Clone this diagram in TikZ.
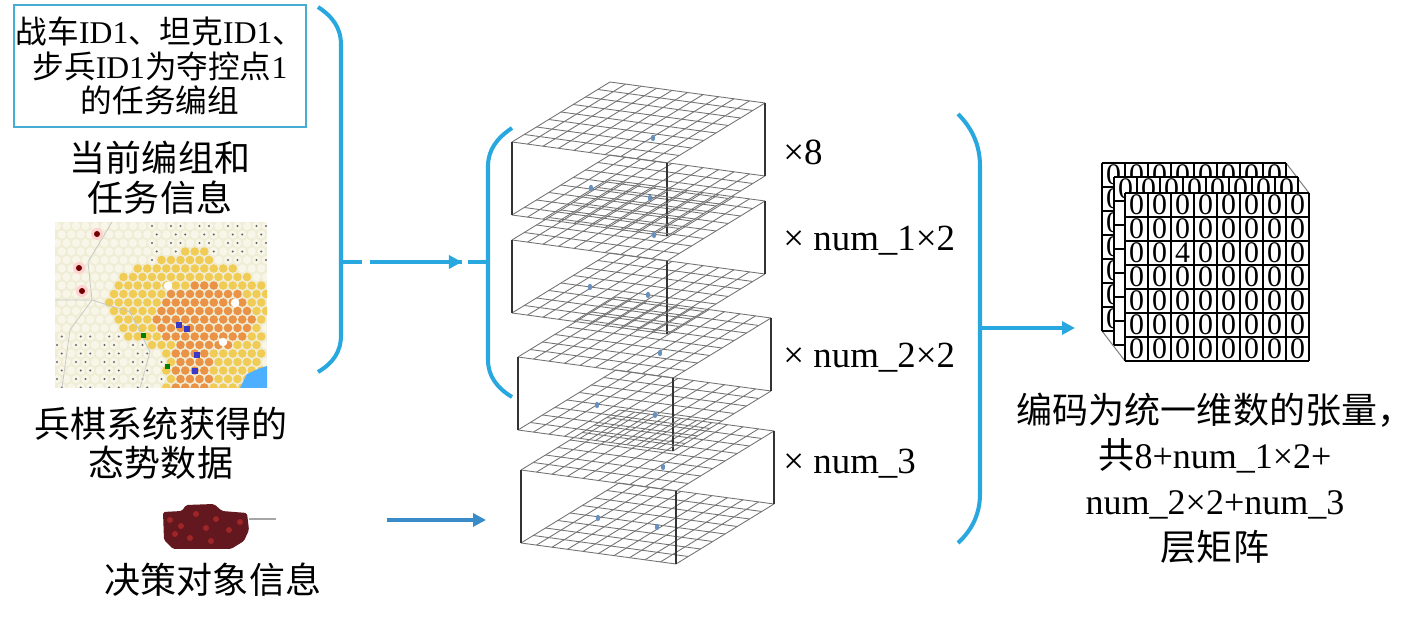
\documentclass[tikz,border=0pt]{standalone}
\usepackage{fontspec}
\setmainfont{Liberation Serif}
\newfontfamily\cjk{Noto Sans CJK SC}
\usepackage{tikz}
\usetikzlibrary{positioning, arrows.meta, decorations.markings}
\definecolor{brblue}{RGB}{41,168,224}
\definecolor{boxblue}{RGB}{70,172,212}
\definecolor{arblue}{RGB}{58,140,200}
\definecolor{mkblue}{RGB}{105,145,190}
\definecolor{mapbg}{RGB}{240,237,214}
\definecolor{hexbg}{RGB}{248,246,232}
\definecolor{hexyel}{RGB}{240,204,84}
\definecolor{hexor}{RGB}{234,146,70}
\definecolor{tankred}{RGB}{98,24,30}

% one grid layer of the stack, left corner at (#1,#2)
\newcommand{\gridplane}[2]{%
  \foreach \i in {0,...,10} \draw[gridline] (#1+\i*15.5,#2+\i*2.1) -- ++(98,-60);
  \foreach \j in {0,...,8} \draw[gridline] (#1+\j*12.25,#2-\j*7.5) -- ++(155,21);
}
% one matrix layer: name, corner, which digits show (2 all, 1 top row, 0 top row and left column)
\newcommand{\matlayer}[4]{%
  \fill[white] (#2,#3) rectangle ++(184,168);
  \foreach \r in {0,...,6}
    \foreach \c in {0,...,7} {
      \pgfmathtruncatemacro\v{4*(#4==2)*(\r==2)*(\c==2)}
      \pgfmathtruncatemacro\seen{(#4==2) || (\r==0) || (\c==0 && #4==0)}
      \ifnum\seen=1 \node[digit] (#1-\r-\c) at (#2+11.5+\c*23,#3+12+\r*24) {\v}; \fi
    }
  \foreach \c in {0,...,8} \draw[matline] (#2+\c*23,#3) -- ++(0,168);
  \foreach \r in {0,...,7} \draw[matline] (#2,#3+\r*24) -- ++(184,0);
}

\begin{document}
\begin{tikzpicture}[x=0.02cm, y=-0.02cm, node distance=0.25cm,
    every node/.style={inner sep=0pt},
    brline/.style={brblue, line width=2.3pt},
    tip/.style={-{Triangle[length=0.26cm, width=0.26cm]}},
    gridline/.style={black!55, line width=0.5pt},
    post/.style={black!80, line width=1.1pt},
    cjklbl/.style={font=\cjk\fontsize{20.5}{22.5}\selectfont, align=center},
    taskbox/.style={draw=boxblue, line width=1.4pt, minimum width=5.84cm, minimum height=2.44cm,
      font=\cjk\fontsize{18}{19.5}\selectfont, align=center},
    mult/.style={font=\fontsize{21}{24}\selectfont, anchor=west},
    digit/.style={font=\fontsize{17}{17}\selectfont},
    matline/.style={black, line width=1.3pt}]
  \useasboundingbox (0,0) rectangle (1418,617);

  % left column
  \node[taskbox] (task) at (160,66) {战车\textrm{ID1}、坦克\textrm{ID1}、\\步兵\textrm{ID1}为夺控点\textrm{1}\\的任务编组};
  \node[cjklbl, below=0.25cm of task] (cur) {当前编组和\\任务信息};
  \node[minimum width=4.24cm, minimum height=3.32cm] (map) at (161,305) {};
  \node[cjklbl, below=0.36cm of map] (sit) {兵棋系统获得的\\态势数据};
  \node[cjklbl] (dec) at (213,580) {决策对象信息};

  % map
  \begin{scope}
    \clip (55,222) rectangle (267,388);
    \fill[mapbg] (55,222) rectangle (267,388);
    \foreach \j in {0,...,19}
      \foreach \i in {0,...,22} {
        \pgfmathsetmacro\hx{57+9.5*\i+4.75*mod(\j,2)}
        \pgfmathsetmacro\hy{226+8.5*\j}
        \pgfmathtruncatemacro\og{(((\hx-205)/50)^2+((\hy-318)/34)^2<1) || (\hx>172 && \hx<212 && \hy>320)}
        \pgfmathtruncatemacro\ye{(((\hx-188)/82)^2+((\hy-305)/48)^2<1) || (\hx>165 && \hx<264 && \hy>300) || (\hx>183 && \hx<206 && \hy>244)}
        \pgfmathtruncatemacro\fr{(\hy<265 && \hx>150 && mod(\i,3)!=2) || (\hy>335 && \hx<170 && mod(\i,3)!=1)}
        \ifnum\og=1 \fill[hexor] (\hx,\hy) circle (4.3);
        \else\ifnum\ye=1 \fill[hexyel] (\hx,\hy) circle (4.3);
        \else \fill[hexbg] (\hx,\hy) circle (4.1);
          \ifnum\fr=1 \fill[black!60] (\hx,\hy) circle (1.1); \fi
        \fi\fi
      }
    \draw[gray!45, line width=0.4pt] (62,388) -- (70,330) -- (92,300) -- (88,262) -- (112,222);
    \draw[gray!45, line width=0.4pt] (55,300) -- (92,300) -- (130,312) -- (150,352) -- (140,388);
    \foreach \wx/\wy in {168/286, 235/303, 223/342} \fill[white] (\wx,\wy) circle (4.3);
    \foreach \ux/\uy in {97/234, 79/268, 82/291} {
      \fill[red!18] (\ux,\uy) circle (6);
      \fill[red!45!black] (\ux,\uy) circle (3);
    }
    \foreach \ux/\uy in {176/322, 184/326, 194/352, 192/368} \fill[blue!55!gray] (\ux,\uy) rectangle ++(6,6);
    \foreach \ux/\uy in {141/333, 165/364} \fill[green!50!black] (\ux,\uy) rectangle ++(5,5);
    \fill[blue!45!cyan!70] (240,388) -- (247,374) -- (258,369) -- (267,366) -- (267,388) -- cycle;
  \end{scope}

  % tank
  \fill[tankred, rounded corners=1pt] (163,512) -- (182,511) -- (186,505) -- (214,504) -- (222,511) -- (247,513)
    -- (249,530) -- (244,541) -- (231,549) -- (173,549) -- (164,540) -- cycle;
  \foreach \tx/\ty in {170/520, 181/526, 196/514, 206/528, 216/519, 229/530, 240/522, 190/538, 211/541, 175/534}
    \fill[red!55!black!85] (\tx,\ty) circle (3);
  \draw[gray!70, line width=1.2pt] (249,519) -- (276,519);

  % brackets
  \draw[brline] (318,7) .. controls (333,17) and (341,28) .. (341,45) -- (341,335)
    .. controls (341,352) and (333,363) .. (318,372);
  \draw[brline] (512,128) .. controls (497,138) and (488,150) .. (488,166) -- (488,360)
    .. controls (488,376) and (497,388) .. (512,397);
  \draw[brline] (958,114) .. controls (972,128) and (980,145) .. (980,166) -- (980,494)
    .. controls (980,514) and (972,530) .. (958,543);

  % grid stack
  \foreach \bx/\by in {512/142, 512/240, 518/357, 521/470} {
    \gridplane{\bx}{\by}
    \gridplane{\bx}{\by+73}
    \draw[post] (\bx,\by) -- ++(0,73);
    \draw[post] (\bx+155,\by+21) -- ++(0,73);
    \draw[post] (\bx+253,\by-39) -- ++(0,73);
  }
  \foreach \mx/\my in {653/138, 591/188, 650/198, 654/235, 590/287, 648/295, 660/353, 597/405, 655/415, 663/467, 598/518, 657/527}
    \fill[mkblue] (\mx,\my) ellipse (2.2 and 3.2);

  \node[mult] (m8) at (783,152) {×8};
  \node[mult] (m1) at (783,241) {× num\_1×2};
  \node[mult] (m2) at (783,358) {× num\_2×2};
  \node[mult] (m3) at (783,464) {× num\_3};

  % matrices
  \draw[gray, line width=0.6pt] (1286,163) -- (1309,193);
  \draw[gray, line width=0.6pt] (1102,331) -- (1125,361);
  \matlayer{back}{1102}{163}{0}
  \matlayer{mid}{1114}{177}{1}
  \matlayer{front}{1125}{193}{2}
  \node[cjklbl, font=\cjk\fontsize{20.5}{26}\selectfont] (enc) at (1215,478)
    {编码为统一维数的张量，\\共\textrm{8+num\_1×2+}\\\textrm{num\_2×2+num\_3}\\层矩阵};

  % connectors
  \coordinate (brLm) at (341,262);
  \coordinate (brMm) at (488,262);
  \coordinate (brRm) at (980,328);
  \coordinate (matin) at (1075,328);
  \coordinate (decout) at (387,520);
  \coordinate (stkin) at (486,520);
  \draw[brline, dash pattern=on 0.42cm off 0.16cm on 1.84cm off 0.12cm on 0.6cm,
    postaction={decorate}, decoration={markings,
      mark=at position 0.823 with {\arrow{Triangle[length=0.26cm, width=0.26cm]}}}] (brLm) -- (brMm);
  \draw[brline, tip] (brRm) -- (matin);
  \draw[arblue, line width=2pt, tip] (decout) -- (stkin);
\end{tikzpicture}
\end{document}
